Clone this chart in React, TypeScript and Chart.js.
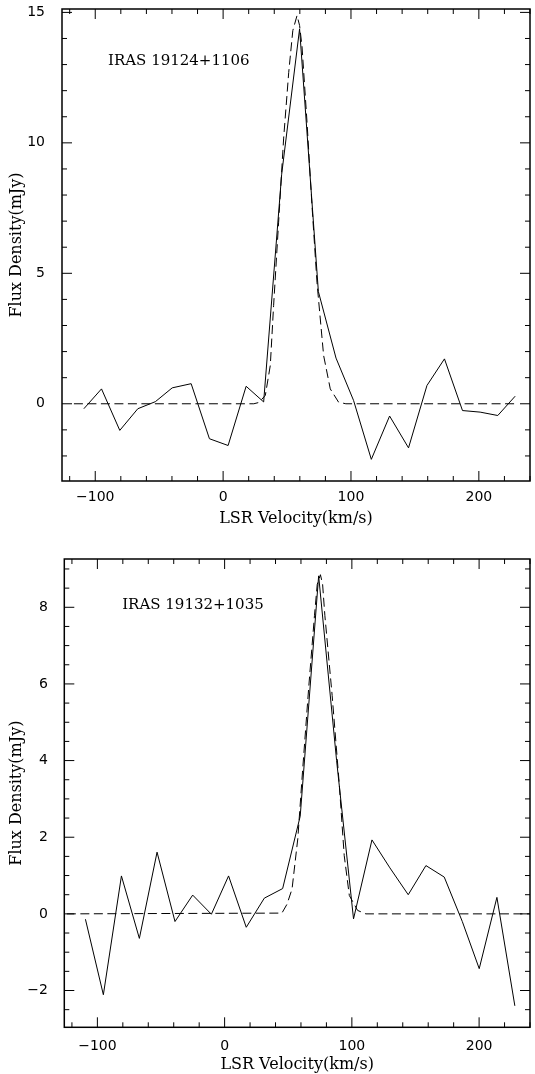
import { useEffect, useRef } from 'react';
import { Chart, registerables } from 'chart.js';

Chart.register(...registerables);

// ---------- data: IRAS 19124+1106 (top panel) ----------
const TOP_LABEL = 'IRAS 19124+1106';
const TOP_VEL = [-108.9, -95.1, -80.8, -66.7, -53.0, -39.8, -25.0, -10.7, 3.9, 18.0, 31.7, 45.8, 59.8, 74.5, 88.3, 102.0, 115.9, 130.2, 145.0, 159.4, 173.1, 187.2, 201.0, 214.8, 228.4];
const TOP_FLUX = [-0.19, 0.57, -1.02, -0.19, 0.08, 0.61, 0.77, -1.34, -1.6, 0.67, 0.07, 8.8, 14.37, 4.3, 1.75, 0.13, -2.13, -0.47, -1.69, 0.7, 1.72, -0.26, -0.32, -0.45, 0.29];
const TOP_FIT_VEL = [-116.7, 24.0, 28.0, 33.0, 36.9, 39.5, 43.4, 47.3, 51.3, 54.5, 57.8, 59.8, 61.7, 65.6, 69.5, 73.4, 78.6, 83.8, 90.3, 96.0, 228.4];
const TOP_FIT_FLUX = [0, 0, 0.05, 0.32, 1.47, 3.77, 6.96, 10.15, 12.7, 14.3, 14.88, 14.5, 13.7, 10.8, 7.6, 4.66, 1.85, 0.57, 0.06, 0, 0];
const TOP_LABEL_POS = [-90, 13.15];

// ---------- data: IRAS 19132+1035 (bottom panel) ----------
const BOT_LABEL = 'IRAS 19132+1035';
const BOT_VEL = [-109.4, -95.3, -81.1, -67.0, -53.1, -39.0, -25.1, -10.4, 3.1, 17.0, 31.2, 45.6, 59.4, 73.9, 88.0, 101.3, 115.8, 129.9, 144.3, 158.2, 172.6, 186.8, 200.1, 214.0, 228.1];
const BOT_FLUX = [-0.14, -2.11, 0.99, -0.64, 1.61, -0.2, 0.49, -0.01, 0.99, -0.35, 0.41, 0.66, 2.55, 8.82, 4.0, -0.13, 1.93, 1.2, 0.5, 1.26, 0.96, -0.2, -1.43, 0.43, -2.4];
const BOT_FIT_VEL = [-124.0, 45.0, 49.0, 53.0, 57.5, 61.2, 66.0, 70.6, 72.8, 75.3, 77.0, 78.8, 84.5, 90.0, 94.0, 98.0, 104.5, 111.0, 240.0];
const BOT_FIT_FLUX = [0, 0.02, 0.25, 0.65, 1.96, 3.7, 5.87, 7.78, 8.6, 8.85, 8.6, 7.78, 5.7, 3.43, 1.52, 0.48, 0.09, 0, 0];
const BOT_LABEL_POS = [-80.5, 8.06];

// ---------- axes ----------
const X_RANGE = [-126, 240];
const TOP_Y_RANGE = [-2.96, 15.13];
const BOT_Y_RANGE = [-2.96, 9.26];
const X_MAJOR = [-100, 0, 100, 200];
const X_MINOR = [-120, -80, -60, -40, -20, 20, 40, 60, 80, 120, 140, 160, 180, 220, 240];
const TOP_Y_MAJOR = [0, 5, 10, 15];
const TOP_Y_MINOR = [-2, -1, 1, 2, 3, 4, 6, 7, 8, 9, 11, 12, 13, 14];
const BOT_Y_MAJOR = [-2, 0, 2, 4, 6, 8];
const BOT_Y_MINOR = [-2.5, -1.5, -1, -0.5, 0.5, 1, 1.5, 2.5, 3, 3.5, 4.5, 5, 5.5, 6.5, 7, 7.5, 8.5, 9];
const X_TITLE = 'LSR Velocity(km/s)';
const Y_TITLE = 'Flux Density(mJy)';

const W = 535;
const H = 537;

const fmt = (v: number) => (v < 0 ? '\u2212' + Math.abs(v) : String(v));

const framePlugin = {
  id: 'frame',
  afterDatasetsDraw(chart: any, _args: any, opts: any) {
    const { ctx, chartArea, scales } = chart;
    const { left, right, top, bottom } = chartArea;
    const x = scales.x;
    const y = scales.y;
    ctx.save();
    ctx.strokeStyle = '#000';
    ctx.lineWidth = 1;
    const seg = (x1: number, y1: number, x2: number, y2: number) => {
      ctx.beginPath();
      ctx.moveTo(x1, y1);
      ctx.lineTo(x2, y2);
      ctx.stroke();
    };
    const xt = (vals: number[], len: number) =>
      vals.forEach((v) => {
        const p = x.getPixelForValue(v);
        seg(p, bottom, p, bottom - len);
        seg(p, top, p, top + len);
      });
    const yt = (vals: number[], len: number) =>
      vals.forEach((v) => {
        const p = y.getPixelForValue(v);
        seg(left, p, left + len, p);
        seg(right, p, right - len, p);
      });
    xt(opts.xMajor, 10);
    xt(opts.xMinor, 5);
    yt(opts.yMajor, 10);
    yt(opts.yMinor, 5);
    ctx.lineWidth = 1.5;
    ctx.strokeRect(left, top, right - left, bottom - top);
    ctx.fillStyle = '#000';
    ctx.font = '15px "DejaVu Serif"';
    ctx.textAlign = 'left';
    ctx.textBaseline = 'middle';
    ctx.fillText(opts.label, x.getPixelForValue(opts.labelPos[0]), y.getPixelForValue(opts.labelPos[1]));
    ctx.restore();
  },
};

type PanelCfg = {
  vel: number[];
  flux: number[];
  fitVel: number[];
  fitFlux: number[];
  yRange: number[];
  yMajor: number[];
  yMinor: number[];
  label: string;
  labelPos: number[];
  padTop: number;
  yWidth: number;
  xHeight: number;
  xTickPad: number;
  xTitlePad: number;
  yTickPad: number;
};

function Panel({ cfg }: { cfg: PanelCfg }) {
  const ref = useRef<HTMLCanvasElement>(null);
  useEffect(() => {
    const chart = new Chart(ref.current as HTMLCanvasElement, {
      type: 'line',
      data: {
        datasets: [
          {
            data: cfg.vel.map((v, i) => ({ x: v, y: cfg.flux[i] })),
            borderColor: '#000',
            borderWidth: 1,
            pointRadius: 0,
            tension: 0,
            fill: false,
          },
          {
            data: cfg.fitVel.map((v, i) => ({ x: v, y: cfg.fitFlux[i] })),
            borderColor: '#000',
            borderWidth: 1,
            borderDash: [9, 4.5],
            pointRadius: 0,
            tension: 0,
            fill: false,
          },
        ],
      },
      options: {
        animation: false,
        responsive: false,
        devicePixelRatio: 1,
        events: [],
        layout: { padding: { left: 0, right: 5, top: cfg.padTop, bottom: 0 } },
        plugins: {
          legend: { display: false },
          tooltip: { enabled: false },
          frame: {
            xMajor: X_MAJOR,
            xMinor: X_MINOR,
            yMajor: cfg.yMajor,
            yMinor: cfg.yMinor,
            label: cfg.label,
            labelPos: cfg.labelPos,
          },
        } as any,
        scales: {
          x: {
            type: 'linear',
            min: X_RANGE[0],
            max: X_RANGE[1],
            grid: { display: false },
            border: { display: false },
            afterBuildTicks: (s: any) => {
              s.ticks = X_MAJOR.map((v) => ({ value: v }));
            },
            afterFit: (s: any) => {
              s.height = cfg.xHeight;
              s.paddingLeft = 0;
              s.paddingRight = 0;
            },
            ticks: {
              padding: cfg.xTickPad,
              color: '#000',
              maxRotation: 0,
              font: { family: '"DejaVu Sans"', size: 14 },
              callback: (v: any) => fmt(Number(v)),
            },
            title: {
              display: true,
              text: X_TITLE,
              color: '#000',
              font: { family: '"DejaVu Serif"', size: 16 },
              padding: { top: 0, bottom: cfg.xTitlePad },
            },
          },
          y: {
            type: 'linear',
            min: cfg.yRange[0],
            max: cfg.yRange[1],
            grid: { display: false },
            border: { display: false },
            afterBuildTicks: (s: any) => {
              s.ticks = cfg.yMajor.map((v) => ({ value: v }));
            },
            afterFit: (s: any) => {
              s.width = cfg.yWidth;
              s.paddingTop = 0;
              s.paddingBottom = 0;
            },
            ticks: {
              padding: cfg.yTickPad,
              color: '#000',
              font: { family: '"DejaVu Sans"', size: 14 },
              callback: (v: any) => fmt(Number(v)),
            },
            title: {
              display: true,
              text: Y_TITLE,
              color: '#000',
              font: { family: '"DejaVu Serif"', size: 16 },
              padding: { top: 7.4, bottom: 0 },
            },
          },
        },
      },
      plugins: [framePlugin],
    } as any);
    return () => chart.destroy();
  }, [cfg]);
  return <canvas ref={ref} width={W} height={H} style={{ display: 'block', width: W, height: H }} />;
}

const TOP_CFG: PanelCfg = {
  vel: TOP_VEL,
  flux: TOP_FLUX,
  fitVel: TOP_FIT_VEL,
  fitFlux: TOP_FIT_FLUX,
  yRange: TOP_Y_RANGE,
  yMajor: TOP_Y_MAJOR,
  yMinor: TOP_Y_MINOR,
  label: TOP_LABEL,
  labelPos: TOP_LABEL_POS,
  padTop: 9,
  yWidth: 62,
  xHeight: 56,
  xTickPad: 0,
  xTitlePad: 8.4,
  yTickPad: 9,
};

const BOT_CFG: PanelCfg = {
  vel: BOT_VEL,
  flux: BOT_FLUX,
  fitVel: BOT_FIT_VEL,
  fitFlux: BOT_FIT_FLUX,
  yRange: BOT_Y_RANGE,
  yMajor: BOT_Y_MAJOR,
  yMinor: BOT_Y_MINOR,
  label: BOT_LABEL,
  labelPos: BOT_LABEL_POS,
  padTop: 22,
  yWidth: 64.3,
  xHeight: 46.7,
  xTickPad: 2.3,
  xTitlePad: 0,
  yTickPad: 8.5,
};

export default function App() {
  return (
    <div style={{ position: 'absolute', left: 0, top: 0, width: W, height: 2 * H, background: '#fff' }}>
      <Panel cfg={TOP_CFG} />
      <Panel cfg={BOT_CFG} />
    </div>
  );
}
